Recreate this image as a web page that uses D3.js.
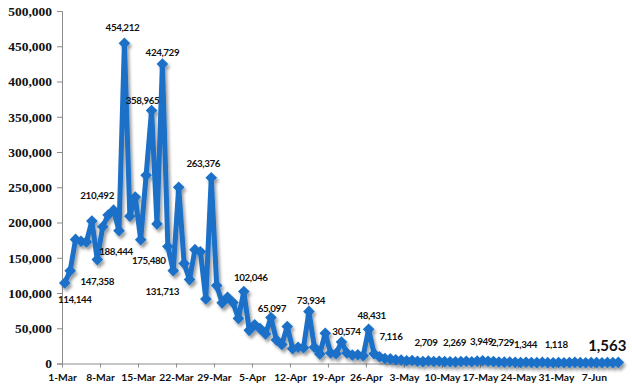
<!DOCTYPE html>
<html><head><meta charset="utf-8">
<script src="https://cdn.jsdelivr.net/npm/d3@7"></script>
<style>
html,body{margin:0;padding:0;background:#fff;}
svg{display:block;}
</style></head>
<body>
<svg id="chart" width="632" height="388"></svg>
<script>
// ---- data ----
const startDate = "2020-03-01";
const values = [
 114144,131500,176000,173500,172500,202000,147358,194000,210492,217500,
 188444,454212,209000,236000,175480,267000,358965,198000,424729,166000,
 131713,250000,142000,119000,161500,158500,91500,263376,110500,86000,
 94000,86500,64000,102046,47000,55000,49500,42000,65097,33500,
 27000,52500,21000,23000,22500,73934,23000,13500,43000,15000,
 14000,30574,15000,12000,12500,11000,48431,14000,9500,7116,
 6500,5200,4800,3900,4200,3100,2709,3500,2900,3200,
 2600,2400,2269,2800,3100,2500,3300,3949,3100,2729,
 2200,1900,2100,1600,1344,1800,1500,1300,1700,1200,
 1118,1400,1000,1300,1600,1200,1100,1500,1300,1000,
 1400,1200,1563
];
const yTicks = [0,50000,100000,150000,200000,250000,300000,350000,400000,450000,500000];
const xTickLabels = ["1-Mar","8-Mar","15-Mar","22-Mar","29-Mar","5-Apr","12-Apr","19-Apr","26-Apr","3-May","10-May","17-May","24-May","31-May","7-Jun"];
// labelled points: day index
const labelled = [0,6,8,10,11,14,16,18,20,27,33,38,45,51,56,59,66,72,77,79,84,90,102];

// ---- label placement (relative to point) ----
const labelOffset = {
 0:[10,16],6:[0,21],8:[-11,-20],10:[-3,20],11:[-2,-16],14:[8,20],16:[-9,-10],18:[0,-12],20:[-11,20],
 27:[-8,-15],33:[7,-15],38:[1,-10],45:[2,-11],51:[5,-11],56:[3,-14],59:[6,-22],
 66:[3,-20],72:[-1,-20],77:[-1,-20],79:[9,-20],84:[5,-19],90:[3,-19],102:[-11,-17]
};

const parse = d3.utcParse("%Y-%m-%d");
const t0 = parse(startDate);
const data = values.map((v,i)=>({date:d3.utcDay.offset(t0,i), value:v, i}));
const tEnd = d3.utcDay.offset(t0, values.length);

const svg = d3.select("#chart");
const x = d3.scaleUtc().domain([t0, tEnd]).range([62, 621]);
const y = d3.scaleLinear().domain([0,500000]).range([363.5, 11]);
const half = (x(d3.utcDay.offset(t0,1)) - x(t0))/2;
const px = d => x(d.date) + half;

const defs = svg.append("defs");
const f = defs.append("filter").attr("id","sh").attr("x","-20%").attr("y","-20%").attr("width","140%").attr("height","140%");
f.append("feDropShadow").attr("dx",2).attr("dy",3).attr("stdDeviation",1.6).attr("flood-color","#000").attr("flood-opacity",0.38);

// axes
const fmt = d3.format(",");
const yAxis = d3.axisLeft(y).tickValues(yTicks).tickSize(5).tickPadding(5).tickFormat(d=>fmt(d));
const gy = svg.append("g").attr("transform","translate(62,0)").call(yAxis);
gy.select(".domain").attr("stroke","#8c8c8c");
gy.selectAll(".tick line").attr("stroke","#8c8c8c");
gy.selectAll("text").attr("font-family","'Liberation Serif', serif").attr("font-weight","bold").attr("font-size","13.5px").attr("fill","#111");

const xTickDates = xTickLabels.map((s,k)=>d3.utcDay.offset(t0,7*k));
const xAxis = d3.axisBottom(x).tickValues(xTickDates).tickSize(4).tickSizeOuter(0).tickPadding(6).tickFormat((d,k)=>xTickLabels[k]);
const gx = svg.append("g").attr("transform","translate(0,363.5)").call(xAxis);
gx.select(".domain").attr("stroke","#8c8c8c");
gx.selectAll(".tick line").attr("stroke","#8c8c8c");
gx.selectAll("text").attr("font-family","Lato, sans-serif").attr("font-weight","bold").attr("font-size","10.3px").attr("fill","#111");

// series
const line = d3.line().x(px).y(d=>y(d.value));
const g = svg.append("g").attr("filter","url(#sh)");
g.append("path").datum(data).attr("d",line).attr("fill","none").attr("stroke","#1a70c8").attr("stroke-width",5).attr("stroke-linejoin","round");
const r = 5.8;
g.selectAll("path.m").data(data).join("path").attr("class","m")
 .attr("d",d=>{const cx=px(d), cy=y(d.value); return `M${cx},${cy-r}L${cx+r},${cy}L${cx},${cy+r}L${cx-r},${cy}Z`;})
 .attr("fill","#1a70c8");

// data labels
svg.append("g").selectAll("text").data(labelled.map(i=>data[i])).join("text")
 .attr("x",d=>px(d)+labelOffset[d.i][0])
 .attr("y",d=>y(d.value)+labelOffset[d.i][1])
 .attr("text-anchor","middle").attr("dominant-baseline","central")
 .attr("font-family","Lato, sans-serif").attr("font-weight","bold")
 .attr("letter-spacing",d=>d.i===102?"0px":"-0.4px")
 .attr("font-size",d=>d.i===102?"15px":"9.8px").attr("fill","#111")
 .text(d=>fmt(d.value));
</script>
</body></html>
